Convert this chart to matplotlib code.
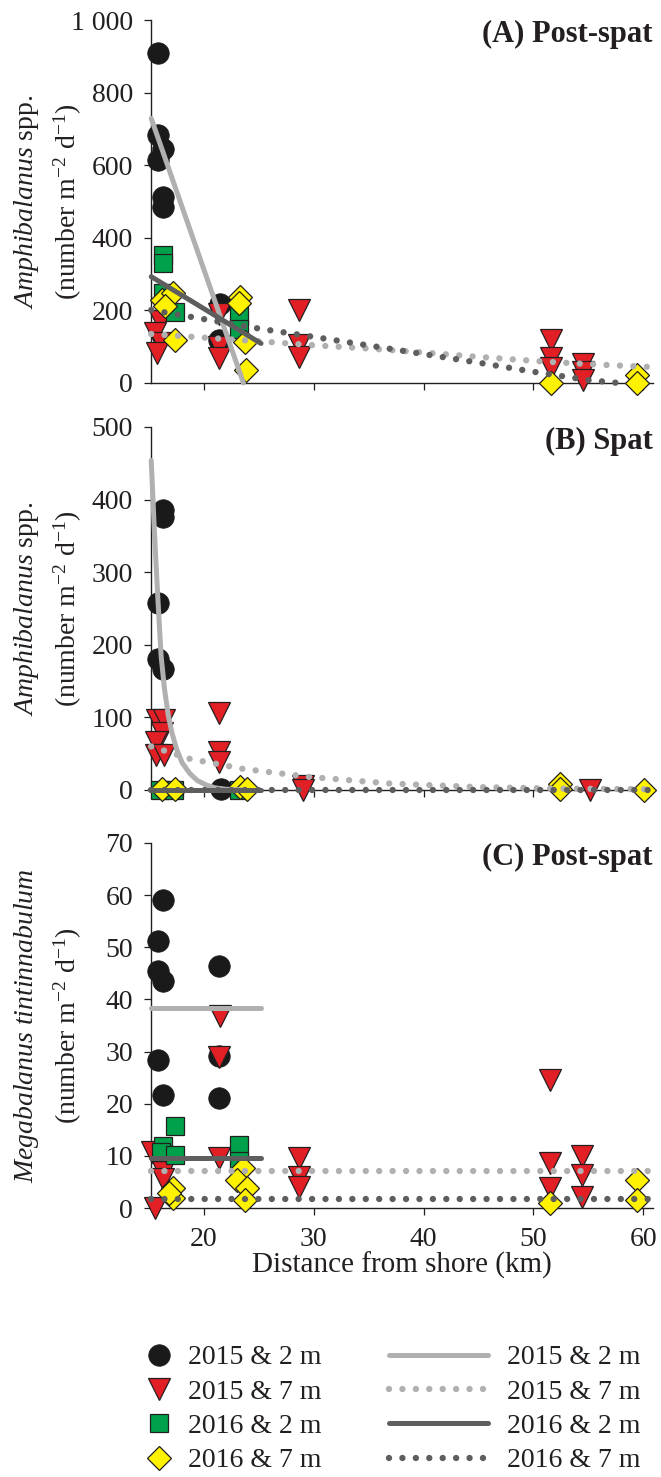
import matplotlib
matplotlib.use("Agg")
import matplotlib.pyplot as plt
from matplotlib.lines import Line2D

plt.rcParams["font.family"] = ["Liberation Serif", "DejaVu Serif"]
plt.rcParams["mathtext.fontset"] = "custom"
plt.rcParams["mathtext.rm"] = "Liberation Serif"
plt.rcParams["mathtext.it"] = "Liberation Serif:italic"
plt.rcParams["mathtext.bf"] = "Liberation Serif:bold"
plt.rcParams["text.color"] = "#231F20"

# ---------------- data ----------------
# Panel A: Amphibalanus spp., post-spat
a_15_2_x = [15.8, 15.8, 16.3, 15.8, 16.3, 16.3, 21.5, 21.4]
a_15_2_y = [908, 683, 646, 614, 513, 486, 219, 118]
a_15_7_x = [16.0, 15.5, 16.1, 15.7, 21.4, 21.4, 21.4, 28.7, 28.7, 28.7, 51.6, 51.6, 51.6, 54.5, 54.5, 54.5]
a_15_7_y = [172, 137, 109, 82, 190, 100, 68, 201, 105, 72, 118, 68, 40, 52, 30, 8]
a_16_2_x = [16.3, 16.3, 16.3, 17.4, 23.2, 23.2]
a_16_2_y = [352, 330, 247, 196, 185, 150]
a_16_7_x = [16.2, 17.2, 16.5, 17.4, 23.3, 23.2, 23.7, 23.8, 51.6, 59.4, 59.4]
a_16_7_y = [229, 247, 212, 118, 238, 220, 114, 36, 0, 22, 0]
# fitted curves, panel A
a_fit_15_2_x = [15.2, 23.6]
a_fit_15_2_y = [729, 0]
a_fit_15_7_x = [15.2, 20, 25, 30, 35, 40, 45, 50, 55, 60.8]
a_fit_15_7_y = [135, 125, 115, 104, 95, 84, 72, 61, 52, 44]
a_fit_16_2_x = [15.2, 25.2]
a_fit_16_2_y = [293, 109]
a_fit_16_7_x = [15.2, 25, 30, 37, 45, 50, 55, 57.8]
a_fit_16_7_y = [201, 150, 127, 94, 56, 31, 8, 0]

# Panel B: Amphibalanus spp., spat
b_15_2_x = [16.3, 16.3, 15.8, 15.8, 16.3, 21.6]
b_15_2_y = [386, 376, 257, 181, 167, 2]
b_15_7_x = [15.7, 16.4, 16.2, 15.6, 15.6, 16.4, 21.4, 21.4, 21.4, 29.0, 29.0, 55.2]
b_15_7_y = [96, 96, 78, 66, 48, 48, 106, 53, 39, 6, 0, 0]
b_16_2_x = [16.0, 17.3, 23.2]
b_16_2_y = [0, 0, 0]
b_16_7_x = [16.2, 17.4, 23.3, 23.9, 52.4, 52.4, 60.1]
b_16_7_y = [2, 2, 4, 2, 8, 2, 0]
b_fit_15_2_x = [15.2, 15.5, 15.8, 16.1, 16.4, 16.75, 17.1, 17.5, 18.0, 18.7, 19.4, 20.2, 21.0, 22.0, 23.6]
b_fit_15_2_y = [454, 353, 265, 185, 140, 103, 78, 57, 38, 23, 13, 7, 3, 1, 0]
b_fit_15_7_x = [15.2, 18.7, 23.6, 29.6, 36.9, 45, 52, 60.8]
b_fit_15_7_y = [60, 43, 29, 18, 9, 4, 2, 1]
b_fit_16_2_x = [15.2, 25.2]
b_fit_16_2_y = [0, 0]
b_fit_16_7_x = [15.2, 60.8]
b_fit_16_7_y = [0, 0]

# Panel C: Megabalanus tintinnabulum, post-spat
c_15_2_x = [16.3, 15.8, 15.8, 16.3, 15.8, 16.3, 21.4, 21.4, 21.4]
c_15_2_y = [59.1, 51.2, 45.4, 43.5, 28.3, 21.7, 46.5, 29.1, 21.1]
c_15_7_x = [21.45, 21.4, 21.4, 15.3, 16.3, 16.3, 15.5, 28.7, 28.7, 28.7, 51.5, 51.5, 51.5, 54.4, 54.4, 54.4]
c_15_7_y = [36.8, 29.0, 9.6, 10.8, 7.0, 5.5, 0, 9.6, 6.0, 4.1, 24.6, 8.6, 3.8, 9.9, 6.3, 2.2]
c_16_2_x = [16.3, 16.1, 17.4, 17.4, 23.2, 23.2]
c_16_2_y = [11.9, 10.8, 15.7, 10.2, 12.1, 9.0]
c_16_7_x = [17.2, 17.2, 16.8, 23.6, 23.0, 23.9, 23.7, 51.5, 59.4, 59.4]
c_16_7_y = [3.8, 1.9, 2.8, 7.6, 5.4, 3.8, 1.5, 0.9, 5.4, 1.5]
c_fit_15_2_x = [15.2, 25.2]
c_fit_15_2_y = [38.4, 38.4]
c_fit_15_7_x = [15.2, 60.8]
c_fit_15_7_y = [7.1, 7.1]
c_fit_16_2_x = [15.2, 25.2]
c_fit_16_2_y = [9.6, 9.6]
c_fit_16_7_x = [15.2, 60.8]
c_fit_16_7_y = [1.7, 1.7]

legend_labels = ["2015 & 2 m", "2015 & 7 m", "2016 & 2 m", "2016 & 7 m"]
x_ticks = [20, 30, 40, 50, 60]

# ---------------- styles ----------------
EDGE = "#231F20"
LIGHT = "#B0B0B0"
DARK = "#5E5E5E"
marker_styles = [
    dict(marker="o", ms=15.5, mfc="#1A1A1A", mec="#1A1A1A", mew=0.5),
    dict(marker="v", ms=15.5, mfc="#E31F26", mec=EDGE, mew=0.9),
    dict(marker="s", ms=13.2, mfc="#00A14B", mec=EDGE, mew=0.9),
    dict(marker="D", ms=11.8, mfc="#FFF200", mec=EDGE, mew=0.9),
]
DOT = (0, (0.001, 2.1))
line_styles = [
    dict(color=LIGHT, lw=3.6, ls="-", solid_capstyle="round"),
    dict(color=LIGHT, lw=4.6, ls=DOT, dash_capstyle="round"),
    dict(color=DARK, lw=3.6, ls="-", solid_capstyle="round"),
    dict(color=DARK, lw=4.6, ls=DOT, dash_capstyle="round"),
]

panels = [
    dict(points=[(a_15_2_x, a_15_2_y), (a_15_7_x, a_15_7_y), (a_16_2_x, a_16_2_y), (a_16_7_x, a_16_7_y)],
         fits=[(a_fit_15_2_x, a_fit_15_2_y), (a_fit_15_7_x, a_fit_15_7_y),
               (a_fit_16_2_x, a_fit_16_2_y), (a_fit_16_7_x, a_fit_16_7_y)],
         ylim=1000, step=200, title="(A) Post-spat",
         ylab1=r"$\mathit{Amphibalanus}$ spp.", top=20, bottom=383),
    dict(points=[(b_15_2_x, b_15_2_y), (b_15_7_x, b_15_7_y), (b_16_2_x, b_16_2_y), (b_16_7_x, b_16_7_y)],
         fits=[(b_fit_15_2_x, b_fit_15_2_y), (b_fit_15_7_x, b_fit_15_7_y),
               (b_fit_16_2_x, b_fit_16_2_y), (b_fit_16_7_x, b_fit_16_7_y)],
         ylim=500, step=100, title="(B) Spat",
         ylab1=r"$\mathit{Amphibalanus}$ spp.", top=427, bottom=790),
    dict(points=[(c_15_2_x, c_15_2_y), (c_15_7_x, c_15_7_y), (c_16_2_x, c_16_2_y), (c_16_7_x, c_16_7_y)],
         fits=[(c_fit_15_2_x, c_fit_15_2_y), (c_fit_15_7_x, c_fit_15_7_y),
               (c_fit_16_2_x, c_fit_16_2_y), (c_fit_16_7_x, c_fit_16_7_y)],
         ylim=70, step=10, title="(C) Post-spat",
         ylab1=r"$\mathit{Megabalanus\ tintinnabulum}$", top=843, bottom=1208),
]

W, H = 661, 1477
fig = plt.figure(figsize=(W / 100, H / 100), dpi=100)
FS = 20
AX_L, AX_R = 151, 653

for i, p in enumerate(panels):
    ax = fig.add_axes([AX_L / W, 1 - p["bottom"] / H, (AX_R - AX_L) / W, (p["bottom"] - p["top"]) / H])
    for k, (xs, ys) in enumerate(p["points"]):
        ax.plot(xs, ys, ls="none", clip_on=False, zorder=3 + k, **marker_styles[k])
    for k, (xs, ys) in enumerate(p["fits"]):
        ax.plot(xs, ys, clip_on=False, zorder=8, **line_styles[k])
    ax.set_xlim(15.18, 60.9)
    ax.set_ylim(0, p["ylim"])
    ax.set_xticks(x_ticks)
    yt = list(range(0, p["ylim"] + 1, p["step"]))
    ax.set_yticks(yt)
    ax.set_yticklabels(["1 000" if v == 1000 else str(v) for v in yt])
    for s in ["top", "right"]:
        ax.spines[s].set_visible(False)
    for s in ["left", "bottom"]:
        ax.spines[s].set_linewidth(1.0)
        ax.spines[s].set_color(EDGE)
    ax.tick_params(direction="out", length=5, width=0.9, color=EDGE, labelsize=FS,
                   labelcolor=EDGE)
    ax.tick_params(axis="y", pad=8)
    ax.tick_params(axis="x", pad=9, labelbottom=(i == 2))
    ax.text(1.0, 0.939, p["title"], transform=ax.transAxes, ha="right", va="baseline",
            fontsize=22, fontweight="bold")
    yc = 1 - (p["top"] + p["bottom"]) / 2 / H
    fig.text(33 / W, yc, p["ylab1"], rotation=90, rotation_mode="anchor",
             ha="center", va="baseline", fontsize=FS)
    fig.text(76 / W, yc, r"(number m$^{-2}$ d$^{-1}$)", rotation=90, rotation_mode="anchor",
             ha="center", va="baseline", fontsize=FS)

fig.text(402 / W, 1 - 1273 / H, "Distance from shore (km)", ha="center", va="baseline",
         fontsize=FS + 1)

# legends
mk_handles = [Line2D([], [], ls="none", **m) for m in marker_styles]
ln_handles = [Line2D([], [], **l) for l in line_styles]
fig.legend(mk_handles, legend_labels, loc="upper left", bbox_to_anchor=(144 / W, 1 - 1345 / H),
           frameon=False, fontsize=FS, handlelength=1.05, handletextpad=0.55,
           labelspacing=0.32, borderpad=0, borderaxespad=0)
fig.legend(ln_handles, legend_labels, loc="upper left", bbox_to_anchor=(389 / W, 1 - 1345 / H),
           frameon=False, fontsize=FS, handlelength=3.55, handletextpad=0.7,
           labelspacing=0.32, borderpad=0, borderaxespad=0)

fig.savefig("out.png", dpi=100)
